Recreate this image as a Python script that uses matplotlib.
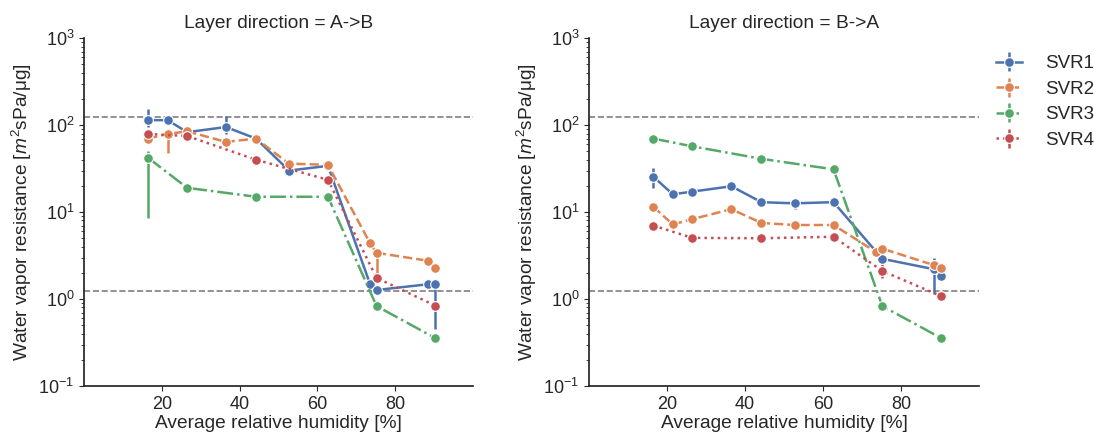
import matplotlib
matplotlib.use("Agg")
import matplotlib.pyplot as plt
import numpy as np

plt.rcParams['font.family'] = ['Liberation Sans', 'DejaVu Sans']
plt.rcParams['mathtext.fontset'] = 'custom'
plt.rcParams['mathtext.it'] = 'Liberation Sans:italic'
plt.rcParams['mathtext.rm'] = 'Liberation Sans'
plt.rcParams['text.color'] = '#262626'
plt.rcParams['axes.labelcolor'] = '#262626'
plt.rcParams['xtick.color'] = '#262626'
plt.rcParams['ytick.color'] = '#262626'

series_names = ["SVR1", "SVR2", "SVR3", "SVR4"]
colors = ["#4C72B0", "#DD8452", "#55A868", "#C44E52"]
styles = ["-", "--", "-.", ":"]
ref_lines = [125, 1.25]
xticks = [20, 40, 60, 80]

# Layer direction A->B
ab_svr1_x = [16.5, 21.5, 26.5, 36.5, 44.2, 52.7, 62.7, 73.5, 75.2, 88.5, 90.3]
ab_svr1_y = [114, 114, 83, 95, 70, 30, 34, 1.5, 1.27, 1.48, 1.48]
ab_svr1_lo = [95, 114, 83, 80, 70, 30, 34, 1.5, 1.27, 1.48, 0.45]
ab_svr1_hi = [152, 114, 83, 127, 70, 30, 34, 1.5, 1.27, 1.48, 1.6]

ab_svr2_x = [16.5, 21.5, 26.5, 36.5, 44.2, 52.7, 62.7, 73.5, 75.2, 88.5, 90.3]
ab_svr2_y = [70, 79, 85, 64, 70, 36, 35, 4.4, 3.4, 2.75, 2.3]
ab_svr2_lo = [66, 48, 85, 64, 70, 36, 35, 4.4, 1.8, 2.75, 2.3]
ab_svr2_hi = [76, 90, 85, 64, 70, 36, 35, 4.4, 3.4, 2.75, 2.3]

ab_svr3_x = [16.5, 26.5, 44.2, 62.7, 75.2, 90.3]
ab_svr3_y = [42, 19, 15, 15, 0.83, 0.355]
ab_svr3_lo = [8.5, 19, 15, 15, 0.83, 0.355]
ab_svr3_hi = [50, 19, 15, 15, 0.83, 0.355]

ab_svr4_x = [16.5, 26.5, 44.2, 62.7, 75.2, 90.3]
ab_svr4_y = [79, 75, 40, 23.5, 1.75, 0.84]
ab_svr4_lo = [79, 75, 40, 23.5, 1.75, 0.84]
ab_svr4_hi = [79, 75, 40, 23.5, 1.75, 0.84]

# Layer direction B->A
ba_svr1_x = [16.5, 21.5, 26.5, 36.5, 44.2, 52.7, 62.7, 75.2, 88.5, 90.3]
ba_svr1_y = [25.5, 16, 17.2, 19.8, 13, 12.6, 13, 2.9, 2.2, 1.85]
ba_svr1_lo = [19, 16, 17.2, 19.8, 13, 10.8, 13, 2.6, 1.15, 1.7]
ba_svr1_hi = [32, 16, 17.2, 19.8, 13, 13.6, 13, 3.1, 3.0, 1.85]

ba_svr2_x = [16.5, 21.5, 26.5, 36.5, 44.2, 52.7, 62.7, 73.5, 75.2, 88.5, 90.3]
ba_svr2_y = [11.5, 7.2, 8.3, 10.8, 7.5, 7.1, 7.1, 3.5, 3.8, 2.45, 2.25]
ba_svr2_lo = [11.5, 7.2, 8.3, 10.8, 7.5, 7.1, 7.1, 3.5, 3.8, 2.45, 2.25]
ba_svr2_hi = [11.5, 7.2, 8.3, 10.8, 7.5, 7.1, 7.1, 3.5, 3.8, 2.45, 2.25]

ba_svr3_x = [16.5, 26.5, 44.2, 62.7, 75.2, 90.3]
ba_svr3_y = [70, 57, 41, 31, 0.83, 0.355]
ba_svr3_lo = [60, 57, 41, 31, 0.83, 0.355]
ba_svr3_hi = [70, 57, 41, 31, 0.83, 0.355]

ba_svr4_x = [16.5, 26.5, 44.2, 62.7, 75.2, 90.3]
ba_svr4_y = [7.0, 5.05, 5.0, 5.2, 2.1, 1.08]
ba_svr4_lo = [7.0, 5.05, 5.0, 5.2, 1.75, 1.08]
ba_svr4_hi = [7.0, 5.05, 5.0, 5.2, 2.5, 1.08]

panels = [
    ("Layer direction = A->B", [
        (ab_svr1_x, ab_svr1_y, ab_svr1_lo, ab_svr1_hi),
        (ab_svr2_x, ab_svr2_y, ab_svr2_lo, ab_svr2_hi),
        (ab_svr3_x, ab_svr3_y, ab_svr3_lo, ab_svr3_hi),
        (ab_svr4_x, ab_svr4_y, ab_svr4_lo, ab_svr4_hi)]),
    ("Layer direction = B->A", [
        (ba_svr1_x, ba_svr1_y, ba_svr1_lo, ba_svr1_hi),
        (ba_svr2_x, ba_svr2_y, ba_svr2_lo, ba_svr2_hi),
        (ba_svr3_x, ba_svr3_y, ba_svr3_lo, ba_svr3_hi),
        (ba_svr4_x, ba_svr4_y, ba_svr4_lo, ba_svr4_hi)]),
]

fig = plt.figure(figsize=(10.94, 4.42), dpi=100)
ax_pos = [[0.0768, 0.1267, 0.3556, 0.787], [0.5384, 0.1267, 0.3565, 0.787]]

for k, (title, data) in enumerate(panels):
    ax = fig.add_axes(ax_pos[k])
    for i, (x, y, lo, hi) in enumerate(data):
        y = np.array(y)
        yerr = [y - np.array(lo), np.array(hi) - y]
        ax.errorbar(x, y, yerr=yerr, fmt='o', linestyle=styles[i], color=colors[i],
                    lw=1.8, elinewidth=1.8, capsize=0, ms=7, mec='white', mew=0.8,
                    label=series_names[i])
    for v in ref_lines:
        ax.axhline(v, color='#7f7f7f', ls='--', lw=1.2, zorder=0)
    ax.set_yscale('log')
    ax.set_ylim(0.1, 1000)
    ax.set_xlim(0, 100)
    ax.set_xticks(xticks)
    ax.set_title(title, fontsize=13.8, pad=7)
    ax.set_xlabel("Average relative humidity [%]", fontsize=13.8, labelpad=2)
    ax.set_ylabel("Water vapor resistance [$m^2$sPa/μg]", fontsize=13.8, labelpad=3)
    ax.tick_params(labelsize=13)
    ax.spines['top'].set_visible(False)
    ax.spines['right'].set_visible(False)
    for s in ['left', 'bottom']:
        ax.spines[s].set_linewidth(1.25)
        ax.spines[s].set_color('#262626')
    if k == 1:
        ax.legend(loc='upper left', bbox_to_anchor=(1.0, 1.0), frameon=False,
                  fontsize=13.5, handlelength=1.4, handletextpad=1.2, labelspacing=0.45)

fig.savefig("out.png", dpi=100)
